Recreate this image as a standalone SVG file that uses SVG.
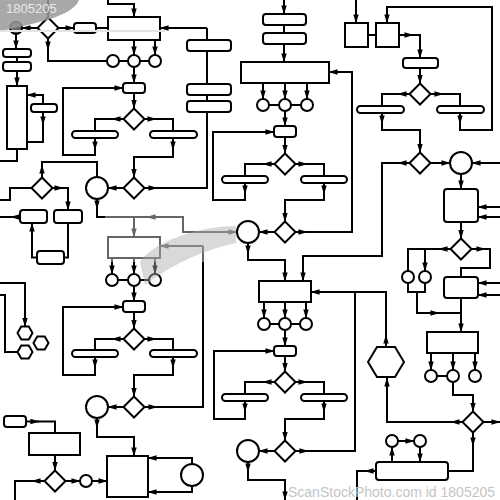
<svg xmlns="http://www.w3.org/2000/svg" width="500" height="500" viewBox="0 0 500 500">
<defs>
<marker id="ah" viewBox="0 0 10 6" refX="9.5" refY="3" markerWidth="9" markerHeight="6" markerUnits="userSpaceOnUse" orient="auto"><path d="M0,0 L10,3 L0,6z" fill="#000"/></marker>
<style>
.l{fill:none;stroke:#000;stroke-width:2}
.a{fill:none;stroke:#000;stroke-width:2;marker-end:url(#ah)}
.n{fill:#fff;stroke:#000;stroke-width:2}
.wm{font-family:"Liberation Sans",Arial,sans-serif}
</style>
</defs>
<rect width="500" height="500" fill="#fff"/>
<g id="connectors">
<!-- motif C (top-left) -->
<path class="a" d="M48,0 V17.5"/>
<path class="a" d="M37.5,28 H22"/>
<path class="a" d="M58.5,28 H74"/>
<path class="l" d="M96,28 H108"/>
<path class="a" d="M108,0 V4 H134 V17"/>
<path class="a" d="M134,40 V55"/><path class="a" d="M155,40 V55"/>
<path class="l" d="M119,61 H128 M140,61 H149"/>
<path class="a" d="M48,38.5 V50"/><path class="l" d="M48,50 V61 H107"/>
<path class="a" d="M134,67 V83"/>
<path class="a" d="M16,34 V49"/>
<path class="l" d="M17,57 V62"/>
<path class="a" d="M17,71 V86"/>
<path class="a" d="M43,104 V95 H27"/>
<path class="a" d="M43,112 V125"/><path class="l" d="M43,124 V142 H27"/>
<path class="l" d="M17,149 V161 H0"/>
<path class="a" d="M95,138 V150"/><path class="a" d="M95,149 V155 H63 V88 H123"/>
<path class="a" d="M134,93 V108.5"/>
<path class="l" d="M123.5,119 H95 V131"/><path class="a" d="M123,119 H112"/>
<path class="l" d="M144.5,119 H173 V131"/><path class="a" d="M145,119 H156"/>
<path class="a" d="M173,138 V150"/><path class="a" d="M173,149 V157 H134 V177.5"/>
<path class="a" d="M123.5,188 H108"/>
<path class="l" d="M144.5,188 H207 V28"/><path class="a" d="M145,188 H157"/>
<path class="a" d="M207,28 H160"/>
<path class="a" d="M97,199 V209"/><path class="a" d="M97,208 V217 H134 V237"/>
<path class="a" d="M134,217 H183 V232 H237"/><path class="a" d="M166,217 H147"/>
<!-- left side -->
<path class="a" d="M42,177.5 V165"/><path class="l" d="M42,166 V162 H97 V177"/>
<path class="l" d="M0,200 H10 V188 H31.5"/>
<path class="a" d="M52.5,188 H63"/><path class="a" d="M62,188 H68 V210"/>
<path class="a" d="M20,217 H11"/><path class="l" d="M12,217 H0"/>
<path class="l" d="M68,223 V257.5 H64"/>
<path class="a" d="M37,257.5 H32 V223"/>
<!-- motif B -->
<path class="a" d="M203,246 H160"/>
<path class="l" d="M203,246 V407 H144.5"/><path class="a" d="M145,407 H157"/>
<path class="a" d="M112,258 V274"/><path class="a" d="M134,258 V274"/><path class="a" d="M155,258 V274"/>
<path class="l" d="M118,280 H128 M140,280 H149"/>
<path class="a" d="M134,286 V301"/>
<path class="a" d="M95,357 V368"/><path class="a" d="M95,367 V375 H63 V307 H123"/>
<path class="a" d="M134,312 V328.5"/>
<path class="l" d="M123.5,339 H95 V350"/><path class="a" d="M123,339 H112"/>
<path class="l" d="M144.5,339 H173 V350"/><path class="a" d="M145,339 H156"/>
<path class="a" d="M173,357 V368"/><path class="a" d="M173,367 V375 H134 V396.5"/>
<path class="a" d="M123.5,407 H108"/>
<path class="a" d="M97,418 V428"/><path class="a" d="M97,427 V437 H134 V456"/>
<!-- hexagon cluster -->
<path class="a" d="M0,283 H25 V326.5"/>
<path class="l" d="M0,295 H5 V352 H17.5"/>
<!-- motif A -->
<path class="a" d="M284,0 V14"/>
<path class="l" d="M284,25 V33"/>
<path class="a" d="M284,44 V62"/>
<path class="a" d="M294.5,232 H352 V72 H329"/><path class="a" d="M295,232 H307"/>
<path class="a" d="M263,83 V99"/><path class="a" d="M285,83 V99"/><path class="a" d="M307,83 V99"/>
<path class="l" d="M269,105 H279 M291,105 H301"/>
<path class="a" d="M285,111 V126"/>
<path class="a" d="M245,183 V194"/><path class="a" d="M245,193 V200 H213 V132 H274"/>
<path class="a" d="M285,137 V153.5"/>
<path class="l" d="M274.5,164 H245 V176"/><path class="a" d="M274,164 H263"/>
<path class="l" d="M295.5,164 H324 V176"/><path class="a" d="M296,164 H307"/>
<path class="a" d="M324,183 V194"/><path class="a" d="M324,193 V200 H285 V221.5"/>
<path class="a" d="M274.5,232 H259"/>
<path class="a" d="M248,243 V254"/><path class="a" d="M248,253 V260 H285 V281"/>
<!-- motif D -->
<path class="a" d="M409.5,163 H382 V256 H303 V281"/><path class="a" d="M409,163 H398"/>
<path class="a" d="M264,302 V318"/><path class="a" d="M285,302 V318"/><path class="a" d="M306,302 V318"/>
<path class="l" d="M270,324 H279 M291,324 H300"/>
<path class="a" d="M285,330 V346"/>
<path class="a" d="M245,401 V412"/><path class="a" d="M245,411 V419 H214 V351 H274"/>
<path class="a" d="M285,356 V371.5"/>
<path class="l" d="M274.5,382 H245 V394"/><path class="a" d="M274,382 H263"/>
<path class="l" d="M295.5,382 H324 V394"/><path class="a" d="M296,382 H307"/>
<path class="a" d="M324,401 V412"/><path class="a" d="M324,411 V419 H285 V440.5"/>
<path class="a" d="M274.5,451 H259"/>
<path class="a" d="M295.5,451 H355 V292 H311"/><path class="a" d="M296,451 H308"/>
<path class="a" d="M248,462 V472"/><path class="a" d="M248,471 V480 H285 V500"/>
<path class="l" d="M386,347 V292 H355"/><path class="a" d="M386,347 V335"/>
<!-- top right -->
<path class="a" d="M356,0 V23"/>
<path class="l" d="M368,35 H376"/>
<path class="a" d="M460,113 V124"/><path class="a" d="M460,123 V130 H492 V7 H387 V23"/>
<path class="a" d="M399,35 H413"/><path class="a" d="M412,35 H420 V58"/>
<path class="a" d="M420,68 V83.5"/>
<path class="l" d="M409.5,94 H382 V106"/><path class="a" d="M409,94 H398"/>
<path class="l" d="M430.5,94 H460 V106"/><path class="a" d="M431,94 H443"/>
<path class="a" d="M382,113 V124"/><path class="a" d="M382,123 V130 H420 V152.5"/>
<path class="a" d="M430.5,163 H450"/>
<path class="a" d="M500,163 H472"/>
<path class="a" d="M461,174 V189"/>
<path class="a" d="M500,207 H478"/><path class="a" d="M500,217 H478"/>
<path class="a" d="M461,222 V238.5"/>
<path class="l" d="M450.5,249 H408 V271"/><path class="a" d="M450,249 H439"/>
<path class="a" d="M425,249 V271"/>
<path class="l" d="M408,283 V292 H425 V283"/>
<path class="a" d="M417,292 V313 H439"/><path class="l" d="M438,313 H461"/>
<path class="l" d="M471.5,249 H490 V268 H461 V277"/><path class="a" d="M472,249 H485"/>
<path class="a" d="M500,283 H478"/><path class="a" d="M500,295 H478"/>
<path class="a" d="M461,298 V332"/>
<path class="a" d="M431,353 V370"/><path class="a" d="M453,353 V370"/><path class="a" d="M475,353 V370"/>
<path class="l" d="M437,376 H447"/>
<path class="a" d="M453,382 V395 H473 V411.5"/>
<path class="a" d="M462.5,422 H387 V378"/><path class="a" d="M462,422 H451"/>
<path class="a" d="M483.5,422 H500"/>
<path class="a" d="M473,432.5 V446"/><path class="l" d="M473,445 V471 H448"/>
<path class="a" d="M392,462 V447"/>
<path class="a" d="M398,441 H414"/>
<path class="a" d="M420,447 V462"/>
<path class="a" d="M376,471 H365"/><path class="l" d="M366,471 H357 V500"/>
<!-- bottom left -->
<path class="a" d="M26,421.5 H39"/><path class="l" d="M38,421.5 H55 V433"/>
<path class="a" d="M55,455 V470.5"/>
<path class="a" d="M44.5,481 H32"/><path class="l" d="M33,481 H15 V500"/>
<path class="a" d="M65.5,481 H80"/>
<path class="a" d="M92,481 H107"/>
<path class="a" d="M192,464 V458 H148"/>
<path class="a" d="M192,486 V492 H148"/>
</g>
<g id="nodes">
<g id="gray-circle"><circle cx="16" cy="28" r="6" fill="#666" stroke="#000" stroke-width="2"/></g>
<g id="diamonds">
<polygon class="n" points="48,17.5 58.5,28 48,38.5 37.5,28"/>
<polygon class="n" points="134,108.5 144.5,119 134,129.5 123.5,119"/>
<polygon class="n" points="134,177.5 144.5,188 134,198.5 123.5,188"/>
<polygon class="n" points="42,177.5 52.5,188 42,198.5 31.5,188"/>
<polygon class="n" points="285,153.5 295.5,164 285,174.5 274.5,164"/>
<polygon class="n" points="285,221.5 295.5,232 285,242.5 274.5,232"/>
<polygon class="n" points="420,83.5 430.5,94 420,104.5 409.5,94"/>
<polygon class="n" points="420,152.5 430.5,163 420,173.5 409.5,163"/>
<polygon class="n" points="461,238.5 471.5,249 461,259.5 450.5,249"/>
<polygon class="n" points="134,328.5 144.5,339 134,349.5 123.5,339"/>
<polygon class="n" points="134,396.5 144.5,407 134,417.5 123.5,407"/>
<polygon class="n" points="285,371.5 295.5,382 285,392.5 274.5,382"/>
<polygon class="n" points="285,440.5 295.5,451 285,461.5 274.5,451"/>
<polygon class="n" points="473,411.5 483.5,422 473,432.5 462.5,422"/>
<polygon class="n" points="55,470.5 65.5,481 55,491.5 44.5,481"/>
</g>
<g id="circles">
<circle class="n" cx="97" cy="188" r="11"/>
<circle class="n" cx="248" cy="232" r="11"/>
<circle class="n" cx="461" cy="163" r="11"/>
<circle class="n" cx="97" cy="407" r="11"/>
<circle class="n" cx="248" cy="451" r="11"/>
<circle class="n" cx="192" cy="475" r="11"/>
<circle class="n" cx="113" cy="61" r="6"/><circle class="n" cx="134" cy="61" r="6"/><circle class="n" cx="155" cy="61" r="6"/>
<circle class="n" cx="263" cy="105" r="6"/><circle class="n" cx="285" cy="105" r="6"/><circle class="n" cx="307" cy="105" r="6"/>
<circle class="n" cx="112" cy="280" r="6"/><circle class="n" cx="134" cy="280" r="6"/><circle class="n" cx="155" cy="280" r="6"/>
<circle class="n" cx="264" cy="324" r="6"/><circle class="n" cx="285" cy="324" r="6"/><circle class="n" cx="306" cy="324" r="6"/>
<circle class="n" cx="408" cy="277" r="6"/><circle class="n" cx="425" cy="277" r="6"/>
<circle class="n" cx="431" cy="376" r="6"/><circle class="n" cx="453" cy="376" r="6"/><circle class="n" cx="475" cy="376" r="6"/>
<circle class="n" cx="392" cy="441" r="6"/><circle class="n" cx="420" cy="441" r="6"/>
<circle class="n" cx="86" cy="481" r="6"/>
</g>
<g id="rects">
<rect class="n" x="108" y="17" width="52" height="23"/>
<rect class="n" x="241" y="62" width="88" height="21"/>
<rect class="n" x="108" y="237" width="52" height="21"/>
<rect class="n" x="259" y="281" width="52" height="21"/>
<rect class="n" x="345" y="23" width="23" height="24"/>
<rect class="n" x="376" y="23" width="23" height="24"/>
<rect class="n" x="7" y="86" width="20" height="63"/>
<rect class="n" x="427" y="332" width="51" height="21"/>
<rect class="n" x="107" y="456" width="41" height="41"/>
<rect class="n" x="29" y="433" width="51" height="22"/>
</g>
<g id="rounded">
<rect class="n" x="3" y="49" width="28" height="8" rx="3"/>
<rect class="n" x="3" y="62" width="28" height="9" rx="3"/>
<rect class="n" x="31" y="104" width="26" height="8" rx="3"/>
<rect class="n" x="74" y="23" width="22" height="10" rx="3"/>
<rect class="n" x="123" y="83" width="22" height="10" rx="3"/>
<rect class="n" x="187" y="40" width="44" height="11" rx="3"/>
<rect class="n" x="187" y="84" width="44" height="11" rx="3"/>
<rect class="n" x="187" y="101" width="44" height="11" rx="3"/>
<rect class="n" x="263" y="14" width="43" height="11" rx="3"/>
<rect class="n" x="263" y="33" width="43" height="11" rx="3"/>
<rect class="n" x="274" y="126" width="22" height="11" rx="3"/>
<rect class="n" x="403" y="58" width="35" height="10" rx="3"/>
<rect class="n" x="20" y="210" width="27" height="13" rx="3"/>
<rect class="n" x="54" y="210" width="28" height="13" rx="3"/>
<rect class="n" x="37" y="251" width="27" height="13" rx="3"/>
<rect class="n" x="123" y="301" width="22" height="11" rx="3"/>
<rect class="n" x="274" y="346" width="22" height="10" rx="3"/>
<rect class="n" x="444" y="189" width="34" height="33" rx="3"/>
<rect class="n" x="444" y="277" width="34" height="21" rx="3"/>
<rect class="n" x="376" y="462" width="72" height="18" rx="3"/>
<rect class="n" x="4" y="416" width="22" height="11" rx="3"/>
</g>
<g id="bars">
<rect class="n" x="72" y="131" width="46" height="7" rx="3.5"/>
<rect class="n" x="150" y="131" width="47" height="7" rx="3.5"/>
<rect class="n" x="222" y="176" width="46" height="7" rx="3.5"/>
<rect class="n" x="301" y="176" width="46" height="7" rx="3.5"/>
<rect class="n" x="357" y="106" width="47" height="7" rx="3.5"/>
<rect class="n" x="437" y="106" width="47" height="7" rx="3.5"/>
<rect class="n" x="72" y="350" width="46" height="7" rx="3.5"/>
<rect class="n" x="150" y="350" width="47" height="7" rx="3.5"/>
<rect class="n" x="222" y="394" width="46" height="7" rx="3.5"/>
<rect class="n" x="301" y="394" width="46" height="7" rx="3.5"/>
</g>
<g id="hexagons">
<polygon class="n" points="17.5,333 21.25,326.5 28.75,326.5 32.5,333 28.75,339.5 21.25,339.5"/>
<polygon class="n" points="33.5,343 37.25,336.5 44.75,336.5 48.5,343 44.75,349.5 37.25,349.5"/>
<polygon class="n" points="17.5,352 21.25,345.5 28.75,345.5 32.5,352 28.75,358.5 21.25,358.5"/>
<polygon class="n" points="368,362 377,347 395,347 404,362 395,377 377,377"/>
</g>
</g>
<g id="watermark">
<path d="M0,0 H79 C74,13 50,21 0,31 Z" fill="#999" opacity="0.85"/>
<line x1="0" y1="31" x2="165" y2="31" stroke="#e4e4e4" stroke-width="2"/>
<text class="wm" x="6" y="13" font-size="13" fill="#e8e8e8">1805205</text>
<path d="M105,205 H236 V262 H105 Z" fill="#fff" opacity="0.4"/>
<path d="M140,262 C152,242 200,226 236,226 L236,243 C205,250 175,262 145,285 Z" fill="#aaa" opacity="0.45"/>
<text class="wm" x="288" y="497" font-size="14" fill="#c4c4c4">ScanStockPhoto.com id 1805205</text>
</g>
</svg>
